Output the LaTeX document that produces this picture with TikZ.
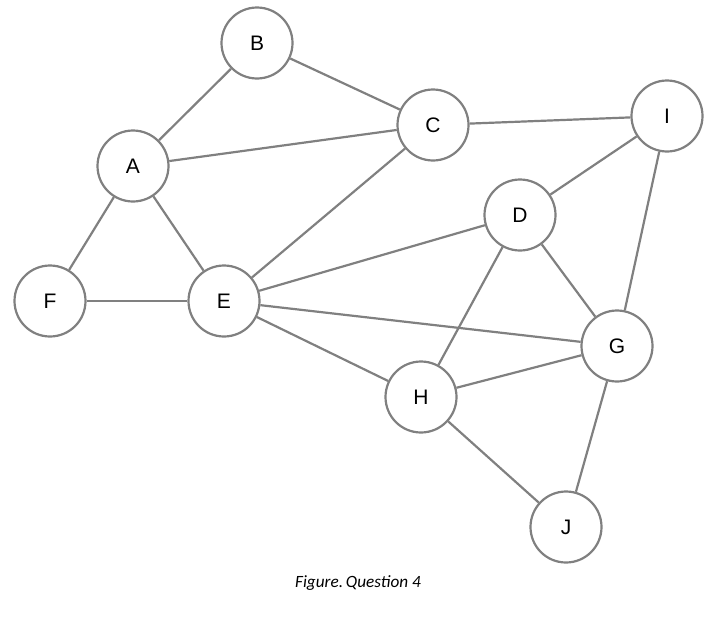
\documentclass[tikz,border=0pt]{standalone}
\usepackage{fontspec}
\setmainfont{Liberation Sans}
\newfontfamily\capfont{Carlito}
\begin{document}
\begin{tikzpicture}[x=1pt,y=-1pt,
  vert/.style={circle,draw=edgegray,line width=2.2pt,fill=white,minimum size=71pt,inner sep=0pt,font=\fontsize{21}{24}\selectfont},
  edge/.style={draw=edgegray,line width=2.2pt}]
\definecolor{edgegray}{RGB}{128,128,128}
\useasboundingbox (0,0) rectangle (720,616);
\node[vert] (B) at (257,43) {B};
\node[vert] (C) at (433,125) {C};
\node[vert] (I) at (667,116) {I};
\node[vert] (A) at (133,166) {A};
\node[vert] (D) at (520,215) {D};
\node[vert] (F) at (50,301) {F};
\node[vert] (E) at (224,301) {E};
\node[vert] (G) at (617,346) {G};
\node[vert] (H) at (421,397) {H};
\node[vert] (J) at (566,527) {J};
\foreach \a/\b in {A/B,B/C,A/C,A/F,A/E,F/E,C/E,C/I,I/D,I/G,D/E,D/H,D/G,E/G,E/H,H/G,H/J,G/J}
  \draw[edge] (\a) -- (\b);
\node (cap) at (358,583) {\capfont\itshape\fontsize{17.2}{20}\selectfont Figure.\,Question 4};
\end{tikzpicture}
\end{document}
